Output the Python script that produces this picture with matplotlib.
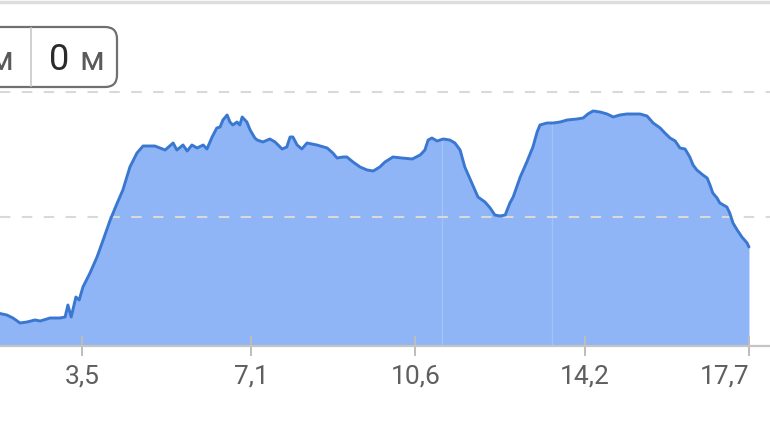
import numpy as np
import matplotlib
matplotlib.use("Agg")
import matplotlib.pyplot as plt
from matplotlib.patches import FancyBboxPatch
from matplotlib.lines import Line2D
from matplotlib.transforms import Affine2D

# ---------------- data ----------------
distance_km = [
    1.70, 1.90, 2.03, 2.18, 2.33, 2.50, 2.61, 2.82, 3.03, 3.14, 3.20, 3.27, 3.37, 3.44,
    3.52, 3.67, 3.82, 3.95, 4.10, 4.25, 4.37, 4.52, 4.67, 4.80, 5.05, 5.27, 5.44, 5.52,
    5.65, 5.74, 5.84, 5.95, 6.08, 6.16, 6.27, 6.37, 6.44, 6.50, 6.59, 6.65, 6.71, 6.80,
    6.86, 6.91, 7.01, 7.08, 7.18, 7.23, 7.35, 7.50, 7.61, 7.76, 7.86, 7.93, 7.99, 8.08,
    8.18, 8.29, 8.50, 8.72, 8.84, 8.93, 9.06, 9.14, 9.27, 9.42, 9.57, 9.70, 9.84, 9.95,
    10.12, 10.31, 10.53, 10.70, 10.80, 10.87, 10.95, 11.06, 11.19, 11.33, 11.44, 11.55,
    11.65, 11.80, 11.93, 12.08, 12.19, 12.29, 12.40, 12.51, 12.61, 12.68, 12.83, 12.97,
    13.10, 13.19, 13.25, 13.40, 13.53, 13.68, 13.83, 14.04, 14.17, 14.27, 14.38, 14.53,
    14.68, 14.81, 14.95, 15.10, 15.38, 15.53, 15.66, 15.81, 15.91, 16.02, 16.13, 16.23,
    16.34, 16.44, 16.51, 16.59, 16.72, 16.81, 16.87, 16.93, 17.02, 17.08, 17.23, 17.29,
    17.36, 17.45, 17.55, 17.66, 17.70,
]
elevation_m = [
    123.2, 121.6, 119.2, 115.2, 116.0, 117.6, 116.8, 119.2, 119.2, 120.0, 129.6, 120.0, 136.0, 133.6,
    144.0, 155.2, 168.0, 181.6, 197.6, 211.2, 221.6, 240.0, 251.2, 256.8, 256.8, 253.6, 259.2, 253.6,
    257.6, 252.8, 257.6, 255.2, 257.6, 254.4, 264.0, 271.2, 272.0, 277.6, 281.6, 276.0, 273.6, 276.0,
    273.6, 280.0, 276.0, 269.6, 263.2, 261.6, 260.0, 262.4, 260.0, 254.4, 256.0, 264.0, 264.0, 257.6,
    254.4, 259.2, 257.6, 255.2, 251.2, 247.2, 248.0, 248.0, 244.0, 240.0, 237.6, 236.8, 240.0, 244.0,
    248.0, 247.2, 246.4, 249.6, 253.6, 261.6, 263.2, 260.8, 262.4, 261.6, 259.2, 253.6,
    240.0, 227.2, 216.0, 212.0, 207.2, 201.6, 200.8, 201.6, 211.2, 216.0, 232.0, 244.0,
    256.0, 268.0, 273.6, 275.2, 275.2, 276.0, 277.6, 278.4, 279.2, 282.4, 284.8, 284.0,
    282.4, 280.0, 281.6, 282.4, 282.4, 280.8, 275.2, 271.2, 267.2, 263.2, 260.8, 255.2,
    254.4, 248.0, 241.6, 237.6, 233.6, 231.2, 225.6, 219.2, 215.2, 211.2, 208.0, 203.2,
    195.2, 189.6, 184.0, 179.2, 176.0,
]
tick_values = [3.5, 7.1, 10.6, 14.2, 17.7]
tick_labels = ["3,5", "7,1", "10,6", "14,2", "17,7"]
grid_values = [200, 300]
marker_km = [11.16, 13.51]
box_left_label = "м"
box_value = "0"
box_unit = "м"

# ---------------- style ----------------
plt.rcParams['font.family'] = ['Roboto', 'DejaVu Sans']
FILL = '#8fb5f6'
LINE = '#3a77d0'

W, H = 770, 425
Y0, Y1 = 96.8, 373.6
fig = plt.figure(figsize=(W / 100, H / 100), dpi=100)
ax = fig.add_axes([0, 79 / H, 1, 346 / H])
ax.set_xlim(1.754, 18.148)
ax.set_ylim(Y0, Y1)

poly = ax.fill_between(distance_km, elevation_m, Y0, color=FILL, lw=0, zorder=1)
clip = poly.get_paths()[0]
for k in marker_km:
    vl = ax.axvline(k, color='#a2c2f8', lw=1.0, zorder=1.5)
    vl.set_clip_path(clip, ax.transData)

for g in grid_values:
    ax.axhline(g, color='#d9d9d9', lw=1.5, linestyle=(0, (5, 5.5)), zorder=2)

ax.plot(distance_km, elevation_m, color=LINE, lw=2.1, zorder=3,
        solid_joinstyle='round', solid_capstyle='round')

for s in ['top', 'left', 'right']:
    ax.spines[s].set_visible(False)
ax.spines['bottom'].set_color('#c4c4c4')
ax.spines['bottom'].set_linewidth(1.6)
ax.set_yticks([])
ax.set_xticks(tick_values, tick_labels)
ax.tick_params(axis='x', direction='inout', length=14, width=1.4, color='#bdbdbd',
               labelsize=19, labelcolor='#5f5f5f', pad=6)
ax.get_xticklabels()[-1].set_horizontalalignment('right')
ax.patch.set_alpha(0)

# ---------------- header box ----------------
pix = Affine2D().scale(1 / W, -1 / H).translate(0, 1) + fig.transFigure
box = FancyBboxPatch((-40, 27), 157, 60, boxstyle="round,pad=0,rounding_size=12",
                     transform=pix, facecolor='white', edgecolor='#707070', lw=1.6)
fig.add_artist(box)
fig.add_artist(Line2D([31, 31], [28, 86], transform=pix, color='#c8c8c8', lw=1.2))
fig.add_artist(Line2D([0, W], [2, 2], transform=pix, color='#dedede', lw=2.5))
fig.text(13, 70, box_left_label, transform=pix, ha='right', va='baseline',
         fontsize=24, color='#5a5a5a')
fig.text(49, 70, box_value, transform=pix, ha='left', va='baseline',
         fontsize=26, color='#2b2b2b')
fig.text(79, 70, box_unit, transform=pix, ha='left', va='baseline',
         fontsize=24, color='#5a5a5a')

fig.savefig('out.png', dpi=100)
